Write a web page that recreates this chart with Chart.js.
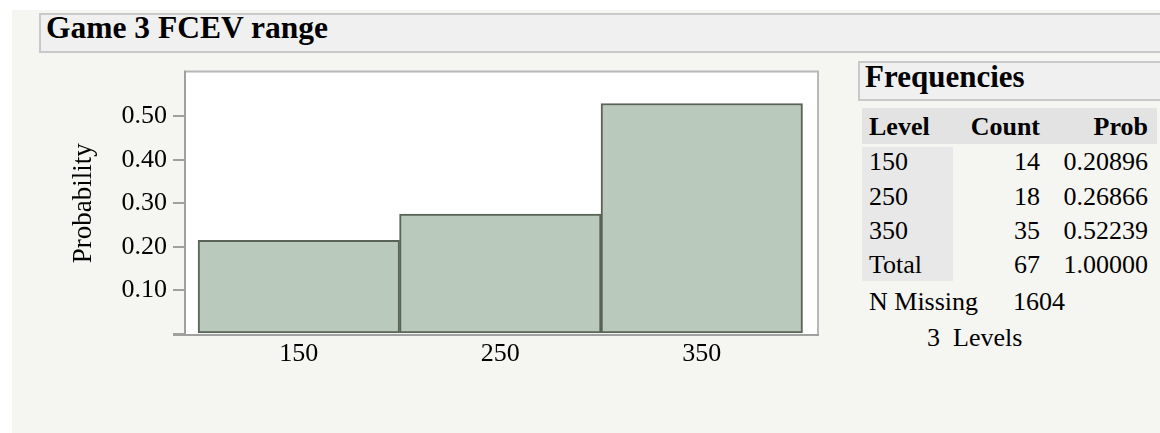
<!DOCTYPE html>
<html>
<head>
<meta charset="utf-8">
<script src="https://cdn.jsdelivr.net/npm/chart.js@4"></script>
<style>
    body { margin: 0; width: 1160px; height: 433px; background: #fff; overflow: hidden; position: relative; font-family: "Liberation Serif", "Times New Roman", serif; color: #000; }
    #panel { position: absolute; left: 12px; top: 10px; right: 0; bottom: 0; background: #f5f5f1; }
    .box { position: absolute; background: #f0f0f0; border: 2px solid #c9c9c9; box-sizing: border-box; }
    .t { position: absolute; white-space: nowrap; font-size: 26px; line-height: 26px; }
    .h { font-weight: bold; font-size: 31px; line-height: 31px; }
    .b { font-weight: bold; }
    .r { text-align: right; }
    #chart-wrap { position: absolute; left: 40px; top: 51px; width: 800px; height: 339px; }
</style>
</head>
<body>
<div id="panel"></div>
<div class="box" style="left:39px; top:13px; width:1130px; height:40px;"></div>
<div class="t h" style="left:46px; top:12px; font-size:31.5px;">Game 3 FCEV range</div>

<div class="box" style="left:858px; top:61px; width:310px; height:40px;"></div>
<div class="t h" style="left:865px; top:61px;">Frequencies</div>
<div style="position:absolute; left:862px; top:108px; width:295px; height:36px; background:#e3e3e3;"></div>
<div style="position:absolute; left:862px; top:147px; width:91px; height:134px; background:#e8e8e8;"></div>
<div id="freq-table"></div>

<div id="chart-wrap"><canvas id="histChart" width="800" height="339"></canvas></div>

<script>
document.addEventListener("DOMContentLoaded", function () {

    const levels = ["150", "250", "350"];
    const levelValues = [150, 250, 350];
    const counts = [14, 18, 35];
    const probs = ["0.20896", "0.26866", "0.52239"];
    const barHeights = [0.215, 0.275, 0.529];   // bar tops
    const yTicks = [0, 0.1, 0.2, 0.3, 0.4, 0.5];
    const totalCount = 67;
    const totalProb = "1.00000";
    const nMissing = 1604;
    const nLevels = 3;

    // frequencies table
    const table = document.getElementById("freq-table");
    function addText(txt, css, cls) {
        const d = document.createElement("div");
        d.className = "t " + (cls || "");
        d.style.cssText = css;
        d.textContent = txt;
        table.appendChild(d);
    }
    addText("Level", "left:869px; top:114px;", "b");
    addText("Count", "right:120px; top:114px;", "b r");
    addText("Prob", "right:12px; top:114px;", "b r");

    const rowTops = [149, 184, 218];
    levels.forEach(function (lv, i) {
        addText(lv, "left:869px; top:" + rowTops[i] + "px;");
        addText(String(counts[i]), "right:120px; top:" + rowTops[i] + "px;", "r");
        addText(probs[i], "right:12px; top:" + rowTops[i] + "px;", "r");
    });
    addText("Total", "left:869px; top:252px;");
    addText(String(totalCount), "right:120px; top:252px;", "r");
    addText(totalProb, "right:12px; top:252px;", "r");
    addText("N Missing", "left:869px; top:289px;");
    addText(String(nMissing), "left:1013px; top:289px;");
    addText(nLevels + "  Levels", "left:927px; top:325px; white-space:pre;");

    // plot frame + white background
    const frame = {
        id: "frame",
        beforeDraw(chart) {
            const { ctx, chartArea: a } = chart;
            ctx.save();
            ctx.fillStyle = "#fff";
            ctx.fillRect(a.left, a.top, a.right - a.left, a.bottom - a.top);
            ctx.restore();
        },
        beforeDatasetsDraw(chart) {
            const { ctx, chartArea: a } = chart;
            ctx.save();
            ctx.lineWidth = 2;
            ctx.strokeStyle = "#b8b8b8";
            ctx.beginPath();
            ctx.moveTo(a.left, a.top - 1); ctx.lineTo(a.right + 2, a.top - 1);
            ctx.moveTo(a.right + 1, a.top - 2); ctx.lineTo(a.right + 1, a.bottom);
            ctx.stroke();
            ctx.strokeStyle = "#a0a0a0";
            ctx.beginPath();
            ctx.moveTo(a.left - 1, a.top - 2); ctx.lineTo(a.left - 1, a.bottom + 2);
            ctx.moveTo(a.left - 13, a.bottom + 1); ctx.lineTo(a.right + 2, a.bottom + 1);
            ctx.stroke();
            ctx.restore();
        }
    };

    const font = { family: "Liberation Serif", size: 26 };
    const ctx = document.getElementById("histChart").getContext("2d");

    new Chart(ctx, {
        type: "bar",
        data: {
            datasets: [{
                data: levelValues.map((x, i) => ({ x: x, y: barHeights[i] })),
                backgroundColor: "#b9c9bb",
                borderColor: "#596356",
                borderWidth: 2,
                borderSkipped: false,
                barPercentage: 1,
                categoryPercentage: 1
            }]
        },
        options: {
            responsive: false,
            animation: false,
            layout: { padding: { left: 0, top: 0, right: 23, bottom: 0 } },
            plugins: { legend: { display: false }, tooltip: { enabled: false } },
            scales: {
                x: {
                    type: "linear",
                    offset: false,
                    min: 94,
                    max: 407.2,
                    afterBuildTicks: s => { s.ticks = levelValues.map(v => ({ value: v })); },
                    afterFit: s => { s.height = 56; },
                    grid: { display: false, offset: false },
                    border: { display: false },
                    ticks: { font: font, color: "#000", padding: -3, maxRotation: 0, autoSkip: false }
                },
                y: {
                    min: 0,
                    max: 0.6,
                    afterBuildTicks: s => { s.ticks = yTicks.map(v => ({ value: v })); },
                    afterFit: s => { s.width = 146; },
                    grid: { drawOnChartArea: false, tickLength: 13, color: "#a0a0a0", lineWidth: 2 },
                    border: { display: false },
                    ticks: {
                        font: font, color: "#000", padding: 6,
                        callback: v => v === 0 ? "" : v.toFixed(2)
                    },
                    title: {
                        display: true, text: "Probability",
                        font: { family: "Liberation Serif", size: 27 }, color: "#000",
                        padding: { top: 28, bottom: 0 }
                    }
                }
            }
        },
        plugins: [frame]
    });
});
</script>
</body>
</html>
